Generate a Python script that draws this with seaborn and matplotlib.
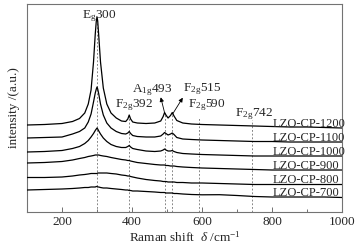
import matplotlib
matplotlib.use("Agg")
import matplotlib.pyplot as plt
import numpy as np
import pandas as pd
import seaborn as sns
from matplotlib.ticker import MultipleLocator

# Raman shift grid (cm^-1), shared by all spectra
raman_shift = [100, 150, 200, 230, 250, 265, 275, 283, 290, 295, 298, 300, 302, 305, 310, 318,
               328, 340, 355, 370, 382, 388, 392, 396, 402, 415, 440, 465, 482, 489, 493, 497,
               503, 510, 515, 520, 528, 545, 570, 600, 650, 700, 750, 800, 850, 900, 950, 1000]

# stacked intensities (a.u.), offsets included
lzo_1200 = [87, 87.5, 88.5, 90.5, 93.5, 99, 108, 122, 150, 178, 191, 195, 191, 176, 150, 124,
            108, 99, 94, 91, 90.5, 93, 97, 93, 90, 89, 88.5, 89, 91, 95.5, 99.5, 97,
            94, 96.5, 99.5, 96, 91.5, 89, 88, 87.5, 87, 86.5, 86, 85.5, 85, 85, 84.5, 84]
lzo_1100 = [74, 74.5, 75, 78, 80.5, 84, 90, 98, 110, 119, 123, 125, 123, 118, 108, 97,
            89, 84, 80.5, 78.5, 78, 79, 80.5, 78.5, 76.5, 75.5, 75, 75, 76, 78, 79.5, 78.5,
            77, 78, 79, 77.5, 74.5, 73, 72.5, 72, 71.5, 71, 70.5, 70.5, 70, 70, 70, 70]
lzo_1000 = [60, 60.5, 61.5, 63.5, 65.5, 68.5, 71.5, 75, 78.5, 81.5, 83, 84, 83, 81, 78, 74,
            70.5, 67.5, 65.5, 64.5, 64.5, 65.5, 66.5, 65, 63.5, 62.5, 61, 60.5, 61, 62, 63, 62,
            61, 61, 61.5, 60.5, 59.5, 58.5, 58, 57.5, 57, 56.5, 56, 56, 56, 56, 56, 56]
lzo_900 = [49, 49.5, 50.5, 52, 53.5, 54.5, 55.5, 56, 56.5, 57, 57, 57, 57, 57, 56.5, 56,
           55.5, 54.5, 53.5, 52.5, 52, 51.5, 51.5, 51, 50.5, 49.5, 48.5, 47.5, 47, 47, 47, 46.5,
           46.5, 46, 46, 46, 45.5, 45, 44.5, 44, 43.5, 43, 42.5, 42, 42, 42, 42, 42]
lzo_800 = [34.5, 34.5, 35, 36, 37, 37.5, 38, 38.5, 38.5, 38.5, 38.5, 38.5, 39, 39, 39, 39,
           39, 38.5, 38, 37, 36.5, 36, 36, 35.5, 35, 34, 32.5, 31.5, 31, 30.5, 30.5, 30.5,
           30, 30, 30, 30, 29.5, 29.5, 29, 29, 28.5, 28, 27.5, 27.5, 27.5, 27.5, 27.5, 27.5]
lzo_700 = [22, 22.5, 23, 23.5, 24, 24.5, 24.5, 25, 25, 25, 25.5, 25.5, 25, 25, 24.5, 24,
           24, 23.5, 23, 22.5, 22, 22, 21.5, 21.5, 21, 21, 20.5, 20, 19.5, 19.5, 19.5, 19,
           19, 19, 19, 18.5, 18.5, 18, 17.5, 17.2, 17.3, 16.5, 15.5, 15, 15, 15, 15, 14.5]

sample_names = ["LZO-CP-1200", "LZO-CP-1100", "LZO-CP-1000", "LZO-CP-900", "LZO-CP-800", "LZO-CP-700"]
spectra = [lzo_1200, lzo_1100, lzo_1000, lzo_900, lzo_800, lzo_700]

# assigned Raman modes: position and top of the marker line
mode_pos = [300, 392, 493, 515, 590, 742]
mode_top = [194, 97, 99.5, 99.5, 95, 92]

sns.set_theme(style="ticks")
plt.rcParams["font.family"] = ["Liberation Serif", "DejaVu Serif"]
plt.rcParams["mathtext.fontset"] = "custom"
plt.rcParams["mathtext.rm"] = "Liberation Serif"
plt.rcParams["mathtext.it"] = "Liberation Serif:italic"

frames = []
for name, values in zip(sample_names, spectra):
    frames.append(pd.DataFrame({"shift": raman_shift, "intensity": values, "sample": name}))
df = pd.concat(frames, ignore_index=True)

fig = plt.figure(figsize=(3.62, 2.47), dpi=100)
ax = fig.add_axes([0.0746, 0.1417, 0.8702, 0.8441])

for xpos, ytop in zip(mode_pos, mode_top):
    ax.plot([xpos, xpos], [0, ytop], color="0.45", lw=0.6, ls=(0, (2.2, 2.2)), zorder=1)

sns.lineplot(data=df, x="shift", y="intensity", units="sample", estimator=None,
             color="black", lw=0.9, sort=False, ax=ax, zorder=3)

fs = 9
for name, values in zip(sample_names, spectra):
    ax.text(803, values[-1] + 1.5, name, fontsize=fs, ha="left", va="baseline", zorder=4)

ax.text(257, 194, r"E$_{\mathrm{g}}$300", fontsize=9.5, va="baseline")
ax.text(351, 105, r"F$_{\mathrm{2g}}$392", fontsize=9.5, va="baseline")
ax.text(400, 120, r"A$_{\mathrm{1g}}$493", fontsize=9.5, va="baseline")
ax.text(546, 121, r"F$_{\mathrm{2g}}$515", fontsize=9.5, va="baseline")
ax.text(560, 105, r"F$_{\mathrm{2g}}$590", fontsize=9.5, va="baseline")
ax.text(694, 96, r"F$_{\mathrm{2g}}$742", fontsize=9.5, va="baseline")

arrow = dict(arrowstyle="-|>", lw=0.6, color="black", mutation_scale=6, shrinkA=0, shrinkB=0)
ax.annotate("", xy=(482, 114.7), xytext=(494, 98), arrowprops=arrow)
ax.annotate("", xy=(545, 114.3), xytext=(516, 98), arrowprops=arrow)

ax.set_xlim(100, 1000)
ax.set_ylim(0, 208.5)
ax.xaxis.set_major_locator(MultipleLocator(200))
ax.xaxis.set_minor_locator(MultipleLocator(100))
ax.set_yticks([])
ax.tick_params(axis="x", which="major", direction="in", length=3.5, width=0.6,
               color="0.35", labelsize=9.5, pad=3)
ax.tick_params(axis="x", which="minor", direction="in", length=2, width=0.6, color="0.35")
for spine in ax.spines.values():
    spine.set_visible(True)
    spine.set_color("0.45")
    spine.set_linewidth(0.8)

ax.set_xlabel(r"Raman shift  $\it{\delta}$ /cm$^{-1}$", fontsize=9.5, labelpad=1)
ax.set_ylabel("intensity /(a.u.)", fontsize=9.5, labelpad=5)

fig.savefig("out.png", dpi=100)
